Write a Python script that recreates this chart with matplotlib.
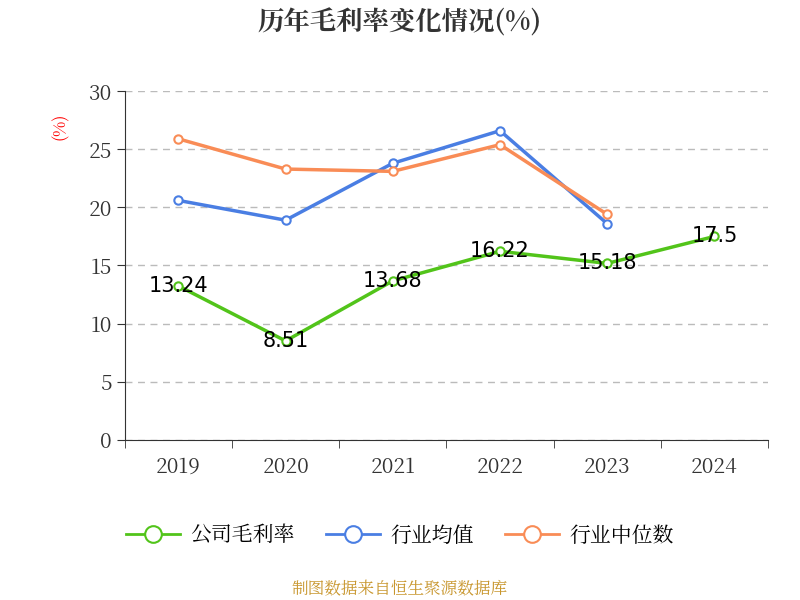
import matplotlib
matplotlib.use("Agg")
import matplotlib.pyplot as plt
from matplotlib.lines import Line2D
from matplotlib import font_manager as fm

cjk = [f.name for f in fm.fontManager.ttflist if 'CJK' in f.name]
pref = [n for n in cjk if n.endswith('SC')] or cjk
plt.rcParams['font.family'] = 'sans-serif'
plt.rcParams['font.sans-serif'] = (pref[:1] if pref else []) + ['Noto Sans CJK SC', 'DejaVu Sans']

years = ["2019", "2020", "2021", "2022", "2023", "2024"]
company = [13.24, 8.51, 13.68, 16.22, 15.18, 17.5]
industry_avg = [20.6, 18.9, 23.8, 26.6, 18.6]
industry_median = [25.9, 23.3, 23.1, 25.4, 19.4]
yticks = [0, 5, 10, 15, 20, 25, 30]

c_green, c_blue, c_orange = "#52c41a", "#4a7ee3", "#f98c56"

fig = plt.figure(figsize=(8, 6), dpi=100)
ax = fig.add_axes([0.156, 0.267, 0.804, 0.581])
x = list(range(len(years)))

def plot(vals, c):
    ax.plot(x[:len(vals)], vals, color=c, lw=2.5, marker='o', ms=6,
            mfc='white', mec=c, mew=1.5, zorder=3)

plot(industry_avg, c_blue)
plot(industry_median, c_orange)
plot(company, c_green)
for xi, v in zip(x, company):
    ax.text(xi, v, f"{v:g}", ha='center', va='center', fontsize=15, color='black', zorder=4,
            fontfamily='DejaVu Sans')

ax.set_xlim(-0.5, 5.5)
ax.set_ylim(0, 30)
ax.set_yticks(yticks)
ax.set_yticklabels([str(t) for t in yticks], fontsize=15, color='#333333')
ax.set_xticks(x)
ax.set_xticklabels(years, fontsize=15, color='#333333')
ax.set_xticks([i - 0.5 for i in range(7)], minor=True)
ax.tick_params(axis='x', which='major', length=0, pad=12)
ax.tick_params(axis='x', which='minor', length=6, color='#333333')
ax.tick_params(axis='y', length=6, color='#333333')
for s in ['top', 'right']:
    ax.spines[s].set_visible(False)
ax.spines['left'].set_color('#333333')
ax.spines['bottom'].set_color('#333333')
ax.grid(axis='y', ls=(0, (5, 4)), color='#bbbbbb', lw=1)
ax.set_axisbelow(True)

fig.text(0.075, 0.79, "(%)", color='red', fontsize=12, rotation=90, ha='center', va='center')
fig.text(0.5, 0.962, "历年毛利率变化情况(%)", fontsize=19, fontweight='bold', ha='center', va='center', color='#333333')

handles = [Line2D([], [], color=c, lw=2, marker='o', ms=12, mfc='white', mec=c, mew=1.5)
           for c in (c_green, c_blue, c_orange)]
fig.legend(handles, ["公司毛利率", "行业均值", "行业中位数"], loc='center', bbox_to_anchor=(0.5, 0.107),
           ncol=3, frameon=False, fontsize=15, handlelength=2.6, columnspacing=1.5, handletextpad=0.5)
fig.text(0.5, 0.018, "制图数据来自恒生聚源数据库", color='#c8962d', fontsize=12, ha='center', va='center')
fig.savefig("out.png", dpi=100)
